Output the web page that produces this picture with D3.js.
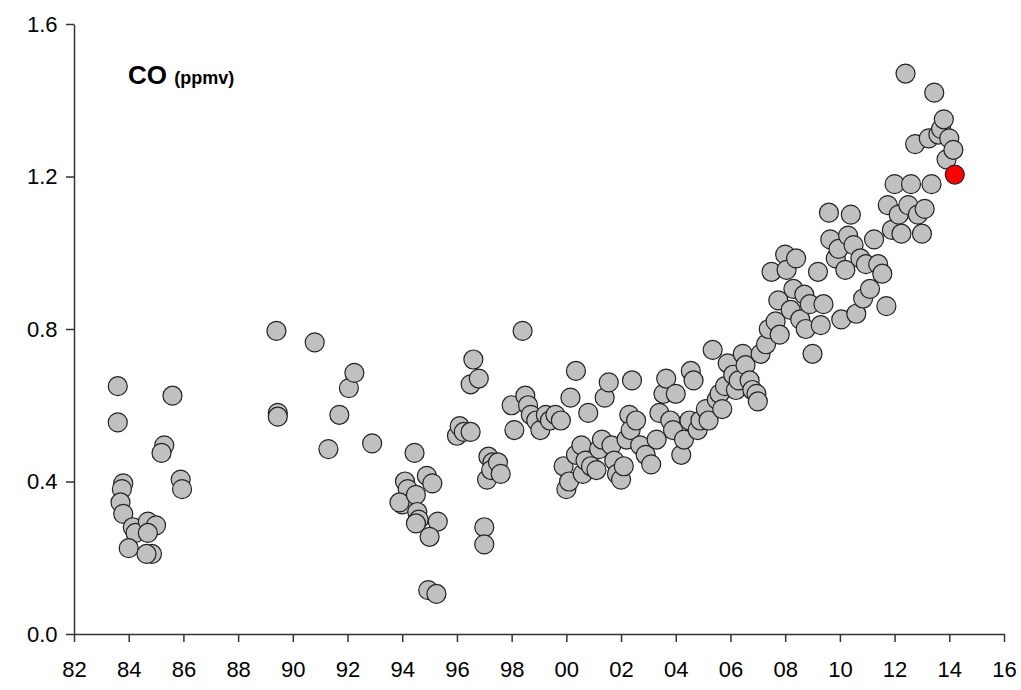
<!DOCTYPE html>
<html><head><meta charset="utf-8">
<script src="https://cdn.jsdelivr.net/npm/d3@7"></script>
<style>body{margin:0;background:#fff}text{font-family:Arial,"Liberation Sans",sans-serif}</style>
</head><body>
<svg id="chart" width="1021" height="690"></svg>
<script>
// years measured from 1900 (100 = 2000)
const years = [83.6,83.6,83.8,83.75,83.7,83.8,84.15,84.25,84,84.7,85,84.7,84.85,84.65,85.3,85.2,85.6,85.9,85.95,
 89.45,89.45,89.4,91.7,92.05,92.25,91.3,92.9,90.8,
 94.45,94.1,94.2,94,93.9,94.5,94.9,95.1,94.55,94.6,94.5,95.3,95,94.95,95.25,
 96,96.1,96.25,96.5,96.6,96.5,96.8,97,97,97.15,97.3,97.1,97.25,97.5,97.6,
 98,98.1,98.4,98.5,98.6,98.7,98.9,99.05,99.25,99.4,99.6,99.8,
 99.9,100,100.15,100.35,100.1,100.35,100.55,100.6,100.8,100.7,100.9,101.1,101.2,101.3,101.4,101.55,101.65,101.75,101.85,102,102.1,102.2,102.3,102.4,102.35,102.55,102.7,102.9,103.1,103.3,103.4,103.55,103.65,103.8,103.9,104,104.2,104.3,104.5,104.55,104.65,104.8,104.9,105.1,105.2,105.35,105.5,105.6,105.7,105.8,105.9,106.1,106.2,106.3,106.45,106.55,106.7,106.8,106.95,107,107.1,107.3,107.4,107.5,107.65,107.75,107.8,108,108.05,108.2,108.3,108.4,108.55,108.7,108.75,108.9,109,109.2,109.3,109.4,109.6,109.65,109.85,109.95,110.05,110.2,110.3,110.4,110.5,110.6,110.75,110.85,110.95,111.1,111.25,111.4,111.55,111.7,111.75,111.9,112,112.15,112.25,112.4,112.5,112.6,112.75,112.85,113,113.1,113.25,113.35,113.45,113.6,113.7,113.8,113.9,114,114.15];
const co = [0.65,0.555,0.395,0.38,0.345,0.315,0.28,0.265,0.225,0.295,0.285,0.265,0.21,0.21,0.495,0.475,0.625,0.405,0.38,
 0.58,0.57,0.795,0.575,0.645,0.685,0.485,0.5,0.765,
 0.475,0.4,0.38,0.34,0.345,0.365,0.415,0.395,0.32,0.3,0.29,0.295,0.255,0.115,0.105,
 0.52,0.545,0.53,0.53,0.72,0.655,0.67,0.28,0.235,0.465,0.45,0.405,0.43,0.45,0.42,
 0.6,0.535,0.795,0.625,0.6,0.575,0.56,0.535,0.575,0.56,0.575,0.56,
 0.44,0.38,0.62,0.69,0.4,0.47,0.495,0.42,0.58,0.455,0.44,0.43,0.485,0.51,0.62,0.66,0.495,0.455,0.42,0.405,0.44,0.51,0.575,0.665,0.535,0.56,0.495,0.47,0.445,0.51,0.58,0.63,0.67,0.56,0.535,0.63,0.47,0.51,0.56,0.69,0.665,0.535,0.56,0.59,0.56,0.745,0.615,0.63,0.59,0.65,0.71,0.68,0.64,0.665,0.735,0.705,0.665,0.64,0.63,0.61,0.735,0.76,0.8,0.95,0.82,0.875,0.785,0.995,0.955,0.85,0.905,0.985,0.825,0.89,0.8,0.865,0.735,0.95,0.81,0.865,1.105,1.035,0.985,1.01,0.825,0.955,1.045,1.1,1.02,0.84,0.985,0.88,0.97,0.905,1.035,0.97,0.945,0.86,1.125,1.06,1.18,1.1,1.05,1.47,1.125,1.18,1.285,1.1,1.05,1.115,1.3,1.18,1.42,1.31,1.325,1.35,1.245,1.3,1.27];
const latest = [114.2, 1.205];
const xTicks = d3.range(82, 117, 2);
const yTicks = [0, 0.4, 0.8, 1.2, 1.6];

const svg = d3.select("#chart");
const x = d3.scaleLinear().domain([82, 116]).range([74, 1004]);
const y = d3.scaleLinear().domain([0, 1.6]).range([634, 24]);

const xAxis = svg.append("g").attr("transform", "translate(0,634)")
  .call(d3.axisBottom(x).tickValues(xTicks).tickSize(8).tickSizeOuter(0)
    .tickFormat(d => String(d % 100).padStart(2, "0")));
const yAxis = svg.append("g").attr("transform", "translate(74,0)")
  .call(d3.axisLeft(y).tickValues(yTicks).tickSize(8).tickSizeOuter(0).tickFormat(d3.format(".1f")));
[xAxis, yAxis].forEach(a => {
  a.selectAll("path,line").attr("stroke", "#333").attr("stroke-width", 1.5);
  a.selectAll("text").style("font-size", "22px").style("font-family", "Arial, 'Liberation Sans', sans-serif").attr("fill", "#000");
});
xAxis.selectAll("text").attr("dy", "1.45em");
yAxis.selectAll("text").attr("dx", "-0.25em");

const pts = years.map((d, i) => [d, co[i]]);
svg.append("g").selectAll("circle").data(pts).enter().append("circle")
  .attr("cx", d => x(d[0])).attr("cy", d => y(d[1])).attr("r", 9.5)
  .attr("fill", "#c0c0c0").attr("stroke", "#222").attr("stroke-width", 1.2);
svg.append("circle").attr("cx", x(latest[0])).attr("cy", y(latest[1])).attr("r", 9.5)
  .attr("fill", "#ff0000").attr("stroke", "#222").attr("stroke-width", 1.2);

const t = svg.append("text").attr("x", 128).attr("y", 84).attr("font-weight", "bold");
t.append("tspan").style("font-size", "26px").text("CO ");
t.append("tspan").style("font-size", "18px").text("(ppmv)");
</script>
</body></html>
